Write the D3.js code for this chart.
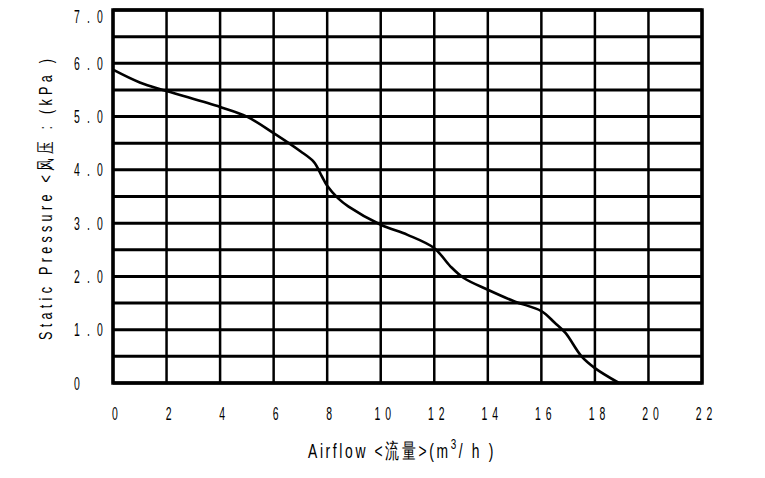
<!DOCTYPE html>
<html><head><meta charset="utf-8">
<script src="https://cdn.jsdelivr.net/npm/d3@7"></script>
<style>
body{margin:0;background:#fff}
text{font-family:"Liberation Sans",Arial,sans-serif;fill:#000}
</style>
</head><body>
<svg id="c" width="765" height="478"></svg>
<script>
// ---- data ----
const airflow  = [0, 1, 2, 4, 5, 6, 7, 7.5, 7.8, 8, 8.4, 8.8, 10, 11, 12, 12.6, 13.1, 14, 15, 16, 16.5, 16.9, 17.5, 18, 18.9];
const pressure = [5.88, 5.64, 5.48, 5.18, 5.0, 4.69, 4.35, 4.15, 3.88, 3.7, 3.47, 3.31, 2.97, 2.78, 2.53, 2.19, 1.97, 1.75, 1.53, 1.35, 1.13, 0.94, 0.5, 0.28, 0.0];
const xTickValues = [0, 2, 4, 6, 8, 10, 12, 14, 16, 18, 20, 22];
const xTickLabels = ["0","2","4","6","8","10","12","14","16","18","20","22"];
const yTickValues = [0, 1, 2, 3, 4, 5, 6, 7];
const yTickLabels = ["0","1.0","2.0","3.0","4.0","5.0","6.0","7.0"];
const yGridValues = [0,0.5,1,1.5,2,2.5,3,3.5,4,4.5,5,5.5,6,6.5,7];
const xTitleParts = ["Airflow <流量>(m", "3", "/ h )"];
const yTitle = "Static  Pressure  <风压 : (kPa )";

// ---- layout ----
const L = 113, R = 702, T = 10, B = 383;
const svg = d3.select("#c");
const x = d3.scaleLinear().domain([0, 22]).range([L, R]);
const y = d3.scaleLinear().domain([0, 7]).range([B, T]);

// grid
svg.append("g").selectAll("line").data(xTickValues).join("line")
  .attr("x1", d => x(d)).attr("x2", d => x(d)).attr("y1", T).attr("y2", B)
  .attr("stroke", "#000").attr("stroke-width", 2.5);
svg.append("g").selectAll("line").data(yGridValues).join("line")
  .attr("x1", L).attr("x2", R).attr("y1", d => y(d)).attr("y2", d => y(d))
  .attr("stroke", "#000").attr("stroke-width", 3);
svg.append("rect").attr("x", L).attr("y", T).attr("width", R - L).attr("height", B - T)
  .attr("fill", "none").attr("stroke", "#000").attr("stroke-width", 3.5);

// curve
const line = d3.line().x((d, i) => x(airflow[i])).y((d, i) => y(pressure[i]))
  .curve(d3.curveCatmullRom.alpha(0.5));
svg.append("path").attr("d", line(pressure)).attr("fill", "none")
  .attr("stroke", "#000").attr("stroke-width", 2.6).attr("stroke-linejoin", "round");

// x tick labels
svg.append("g").selectAll("text").data(xTickValues).join("text")
  .attr("transform", d => `translate(${x(d) + 4.5},420) scale(0.55,1)`)
  .attr("text-anchor", "middle").attr("font-size", 19).attr("letter-spacing", 9)
  .text((d, i) => xTickLabels[i]);

// y tick labels
svg.append("g").selectAll("text").data(yTickValues).join("text")
  .attr("transform", d => `translate(74,${Math.max(y(d), 16) + 6.5}) scale(0.55,1)`)
  .attr("font-size", 19).attr("letter-spacing", 13)
  .text((d, i) => yTickLabels[i]);

// fit helper: condense glyphs by sx, then spread with letter-spacing to reach target width
function fit(t, sx, target, nchars) {
  const w0 = t.node().getBBox().width;
  const ls = Math.max(0, (target / sx - w0) / (nchars - 1));
  t.attr("letter-spacing", ls);
  return t.node().getBBox();
}

// x title
const xt = svg.append("text").attr("font-size", 21);
xt.append("tspan").text(xTitleParts[0]);
xt.append("tspan").attr("dy", -9).attr("font-size", 15).text(xTitleParts[1]);
xt.append("tspan").attr("dy", 9).text(xTitleParts[2]);
{
  const sx = 0.66;
  const bb = fit(xt, sx, 185, xTitleParts.join("").length);
  xt.attr("transform", `translate(${308 - bb.x * sx},458) scale(${sx},1)`);
}

// y title
const yt = svg.append("text").attr("font-size", 19).text(yTitle);
{
  const sx = 0.66;
  const bb = fit(yt, sx, 290, yTitle.length);
  yt.attr("transform", `translate(52,${340 + bb.x * sx}) rotate(-90) scale(${sx},1)`);
}
</script>
</body></html>
